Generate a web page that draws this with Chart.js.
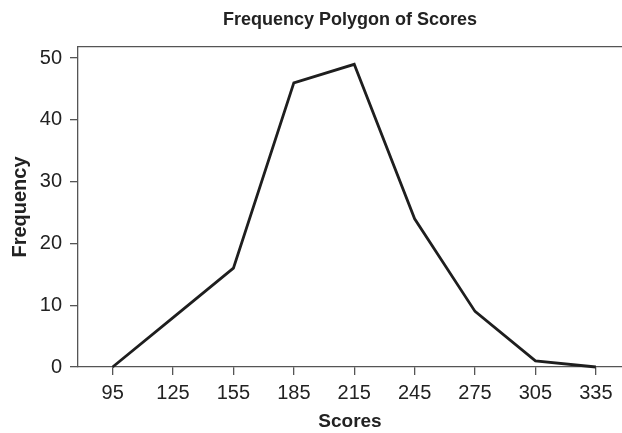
<!DOCTYPE html>
<html>
<head>
<meta charset="utf-8">
<script src="https://cdn.jsdelivr.net/npm/chart.js@4/dist/chart.umd.min.js"></script>
<style>
  html, body { margin: 0; padding: 0; background: #fff; }
  #wrap { width: 622px; height: 433px; position: relative; }
</style>
</head>
<body>
<div id="wrap"><canvas id="chart"></canvas></div>
<script>
// data
const scores = [95, 125, 155, 185, 215, 245, 275, 305, 335];
const frequency = [0, 8, 16, 46, 49, 24, 9, 1, 0];
const yTicks = [0, 10, 20, 30, 40, 50];
const chartTitle = "Frequency Polygon of Scores";
const xTitle = "Scores";
const yTitle = "Frequency";

const FONT = '"Liberation Sans", Arial, Helvetica, sans-serif';
const AXIS = '#555';
const TEXT = '#222';

const ctx = document.getElementById('chart').getContext('2d');
new Chart(ctx, {
    type: 'line',
    data: {
        datasets: [{
            data: scores.map((s, i) => ({ x: s, y: frequency[i] })),
            borderColor: '#1e1e1e',
            borderWidth: 2.8,
            pointRadius: 0,
            tension: 0,
            clip: false
        }]
    },
    options: {
        responsive: true,
        maintainAspectRatio: false,
        animation: false,
        layout: { padding: { top: 0, left: 8, right: 0, bottom: 0 } },
        plugins: {
            legend: { display: false },
            tooltip: { enabled: false },
            title: {
                display: true, text: chartTitle, fullSize: false, color: TEXT,
                font: { family: FONT, size: 18, weight: 'bold' },
                padding: { top: 9, bottom: 16.4 }
            }
        },
        scales: {
            x: {
                type: 'linear', position: 'bottom',
                min: 77.8, max: 348,
                afterBuildTicks: s => { s.ticks = scores.map(v => ({ value: v })); },
                afterFit: s => { s.height = 66; },
                grid: { drawOnChartArea: false, drawTicks: true, tickLength: 8, color: AXIS, lineWidth: 1.3 },
                border: { display: true, color: AXIS, width: 1.3 },
                ticks: { color: TEXT, font: { family: FONT, size: 20 }, padding: 6, maxRotation: 0 },
                title: { display: true, text: xTitle, color: TEXT, font: { family: FONT, size: 19, weight: 'bold' }, padding: 0 }
            },
            x2: {
                type: 'linear', position: 'top',
                min: 77.8, max: 348,
                afterFit: s => { s.height = 0; },
                grid: { display: false },
                border: { display: true, color: AXIS, width: 1.3 },
                ticks: { display: false }
            },
            y: {
                min: 0, max: 51.8,
                afterBuildTicks: s => { s.ticks = yTicks.map(v => ({ value: v })); },
                afterFit: s => { s.width = 70; },
                grid: { drawOnChartArea: false, drawTicks: true, tickLength: 8, color: AXIS, lineWidth: 1.3 },
                border: { display: true, color: AXIS, width: 1.3 },
                ticks: { color: TEXT, font: { family: FONT, size: 20 }, padding: 8 },
                title: { display: true, text: yTitle, color: TEXT, font: { family: FONT, size: 20, weight: 'bold' }, padding: 0 }
            }
        }
    }
});
</script>
</body>
</html>
